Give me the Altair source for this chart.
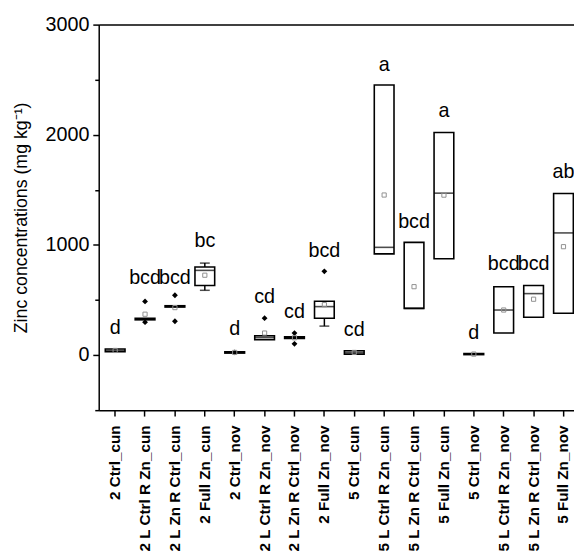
import altair as alt
import pandas as pd

categories = ["2 Ctrl_cun", "2 L Ctrl R Zn_cun", "2 L Zn R Ctrl_cun", "2 Full Zn_cun",
              "2 Ctrl_nov", "2 L Ctrl R Zn_nov", "2 L Zn R Ctrl_nov", "2 Full Zn_nov",
              "5 Ctrl_cun", "5 L Ctrl R Zn_cun", "5 L Zn R Ctrl_cun", "5 Full Zn_cun",
              "5 Ctrl_nov", "5 L Ctrl R Zn_nov", "5 L Zn R Ctrl_nov", "5 Full Zn_nov"]
q1 = [30, 320, 436, 632, 18, 140, 150, 335, 9, 919, 424, 874, 4, 200, 343, 379]
q3 = [55, 334, 448, 800, 30, 175, 165, 488, 39, 2451, 1023, 2021, 14, 621, 632, 1467]
median = [42, 328, 442, 769, 24, 161, 158, 440, 24, 978, 424, 1470, 9, 409, 558, 1109]
mean = [42, 371, 431, 725, 24, 200, 157, 458, 24, 1453, 621, 1452, 9, 409, 507, 984]
whisker_lo = [30, 320, 436, 588, 18, 140, 150, 263, 9, 919, 424, 874, 4, 200, 343, 379]
whisker_hi = [55, 334, 448, 835, 30, 175, 165, 488, 39, 2451, 1023, 2021, 14, 621, 632, 1467]
outlier_cat = ["2 L Ctrl R Zn_cun", "2 L Ctrl R Zn_cun", "2 L Zn R Ctrl_cun", "2 L Zn R Ctrl_cun",
               "2 Ctrl_nov", "2 L Ctrl R Zn_nov", "2 L Zn R Ctrl_nov", "2 L Zn R Ctrl_nov",
               "2 Full Zn_nov"]
outlier_val = [487, 299, 543, 307, 24, 335, 200, 102, 760]
letters = ["d", "bcd", "bcd", "bc", "d", "cd", "cd", "bcd",
           "cd", "a", "bcd", "a", "d", "bcd", "bcd", "ab"]
letter_y = [194, 641, 641, 978, 185, 471, 334, 894,
            170, 2580, 1154, 2162, 149, 769, 769, 1605]
major_ticks = [0, 1000, 2000, 3000]
minor_ticks = [-500, 500, 1500, 2500]

df = pd.DataFrame({"cat": categories, "q1": q1, "q3": q3, "median": median, "mean": mean,
                   "wlo": whisker_lo, "whi": whisker_hi, "letter": letters, "ly": letter_y})
low_w = df[df.wlo < df.q1]
high_w = df[df.whi > df.q3]
out = pd.DataFrame({"cat": outlier_cat, "val": outlier_val})

FONT = "Liberation Sans"
xscale = alt.Scale(domain=categories, range=[0, 488], paddingInner=0, paddingOuter=0.05)
yscale = alt.Scale(domain=[-500, 3000], nice=False, zero=False)

x_bottom = alt.X("cat:N", scale=xscale, sort=categories, title=None,
                 axis=alt.Axis(orient="bottom", labelAngle=270, labelFont=FONT, labelFontSize=15.5,
                               labelFontWeight="bold", labelColor="black", labelPadding=9,
                               tickSize=6, tickWidth=1.5, tickColor="black",
                               domainColor="black", domainWidth=1.5, labelLimit=300))
x_top = alt.X("cat:N", scale=xscale, sort=categories, title=None,
              axis=alt.Axis(orient="top", labels=False, ticks=False, domain=True,
                            domainColor="black", domainWidth=1.5))
x_none = alt.X("cat:N", scale=xscale, sort=categories, axis=None)

y_axis = alt.Axis(orient="left", values=major_ticks, format="d",
                  tickSize=6, tickWidth=1.5, tickColor="black", domainColor="black", domainWidth=1.5,
                  labelFont=FONT, labelFontSize=20, labelColor="black", labelPadding=4,
                  title="Zinc concentrations (mg kg⁻¹)", titleFont=FONT, titleFontSize=18,
                  titleFontWeight="normal", titleColor="black", titlePadding=15, grid=False)
y_minor = alt.Axis(orient="left", values=minor_ticks, labels=False, domain=False, title=None,
                   tickSize=4, tickWidth=1.5, tickColor="black", grid=False)

lower = alt.Chart(low_w).mark_rule(color="black", strokeWidth=1.5).encode(
    x=x_none, y=alt.Y("wlo:Q", scale=yscale, axis=None), y2="q1:Q")
upper = alt.Chart(high_w).mark_rule(color="black", strokeWidth=1.5).encode(
    x=x_none, y=alt.Y("q3:Q", scale=yscale, axis=None), y2="whi:Q")
lcap = alt.Chart(low_w).mark_tick(color="black", thickness=1.5, size=10).encode(
    x=x_none, y=alt.Y("wlo:Q", scale=yscale, axis=None))
hcap = alt.Chart(high_w).mark_tick(color="black", thickness=1.5, size=10).encode(
    x=x_none, y=alt.Y("whi:Q", scale=yscale, axis=None))

boxes = alt.Chart(df).mark_bar(fill="white", stroke="black", strokeWidth=1.6, size=20).encode(
    x=x_bottom, y=alt.Y("q1:Q", scale=yscale, axis=y_axis), y2="q3:Q")
meds = alt.Chart(df).mark_tick(color="black", thickness=1.6, size=20).encode(
    x=x_none, y=alt.Y("median:Q", scale=yscale, axis=None))
outs = alt.Chart(out).mark_point(shape="diamond", filled=True, color="black", size=35, opacity=1).encode(
    x=x_none, y=alt.Y("val:Q", scale=yscale, axis=None))
means = alt.Chart(df).mark_point(shape="square", filled=False, color="#909090", size=18,
                                 strokeWidth=1, opacity=1).encode(
    x=x_none, y=alt.Y("mean:Q", scale=yscale, axis=y_minor))
labels = alt.Chart(df).mark_text(font=FONT, fontSize=20, color="black", baseline="alphabetic",
                                 align="center").encode(
    x=x_top, y=alt.Y("ly:Q", scale=yscale, axis=None), text="letter:N")

chart = alt.layer(lower, upper, boxes, meds, lcap, hcap, outs, means, labels).resolve_axis(
    x="independent", y="independent"
).properties(
    width=482, height=391,
    autosize=alt.AutoSizeParams(type="none"),
    padding={"left": 92, "top": 13, "right": 0, "bottom": 140},
    background="white"
).configure_view(stroke=None)

chart.save("out.html", embed_options={"renderer": "svg", "actions": False})
